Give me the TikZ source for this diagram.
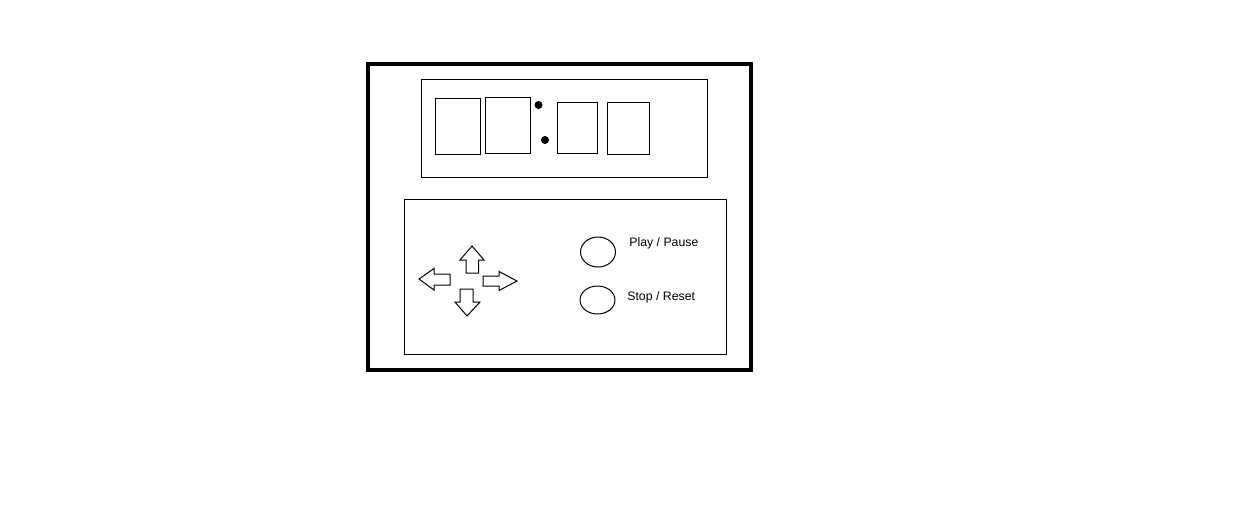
\documentclass[tikz,border=0pt]{standalone}
\usepackage{fontspec}
\setmainfont{Liberation Sans}
\usetikzlibrary{positioning, shapes.geometric}

\begin{document}
\begin{tikzpicture}[
            x=0.02cm, y=-0.02cm, % one unit = one pixel of the sketch
            thin_line/.style={draw, line width=0.57pt},
            panel/.style={thin_line, rectangle, inner sep=0pt},
            digit_box/.style={panel},
            colon_dot/.style={circle, fill=black, minimum size=0.16cm, inner sep=0pt},
            button/.style={thin_line, ellipse, inner sep=0pt},
            button_label/.style={anchor=base west, inner sep=0pt, font=\fontsize{7pt}{8.4pt}\selectfont},
            key_arrow/.style={line width=0.57pt, line join=miter}
        ]

        \useasboundingbox (0,0) rectangle (1243,529);

        % Case and the two panels
        \node[draw, line width=2.3pt, rectangle, inner sep=0pt,
              minimum width=7.66cm, minimum height=6.12cm] (case) at (559.5,217) {};
        \node[panel, minimum width=5.74cm, minimum height=1.96cm] (display) at (564.5,128) {};
        \node[panel, minimum width=6.46cm, minimum height=3.12cm] (controls) at (565.5,277) {};

        % Digits of the display
        \node[digit_box, minimum width=0.90cm, minimum height=1.12cm] (d1) at (457.5,126) {};
        \node[digit_box, minimum width=0.90cm, minimum height=1.12cm] (d2) at (507.5,125) {};
        \node[colon_dot] (dotA) at (538.5,105) {};
        \node[colon_dot] (dotB) at (545,140) {};
        \node[digit_box, minimum width=0.80cm, minimum height=1.02cm] (d3) at (577,127.5) {};
        \node[digit_box, minimum width=0.84cm, minimum height=1.04cm] (d4) at (628,128) {};

        % Buttons
        \node[button, minimum width=0.70cm, minimum height=0.60cm] (play) at (598,252) {};
        \node[button, minimum width=0.70cm, minimum height=0.56cm] (stop) at (597.5,300) {};
        \node[button_label] (playL) at (629,246) {Play / Pause};
        \node[button_label] (stopL) at (627,300) {Stop / Reset};

        % Direction keys
        \draw[key_arrow] (472,246) -- (484,260) -- (478.5,260) -- (478.5,273)
            -- (466,273) -- (466,260) -- (460,260) -- cycle;
        \draw[key_arrow] (419,279) -- (434,268.5) -- (434,274) -- (450,274)
            -- (450,285) -- (434,285) -- (434,290) -- cycle;
        \draw[key_arrow] (517,281) -- (499,271.5) -- (499,276) -- (483,276)
            -- (483,286) -- (499,286) -- (499,290.5) -- cycle;
        \draw[key_arrow] (467,316) -- (455,302) -- (460,302) -- (460,289)
            -- (473,289) -- (473,302) -- (480,302) -- cycle;

    \end{tikzpicture}
\end{document}
